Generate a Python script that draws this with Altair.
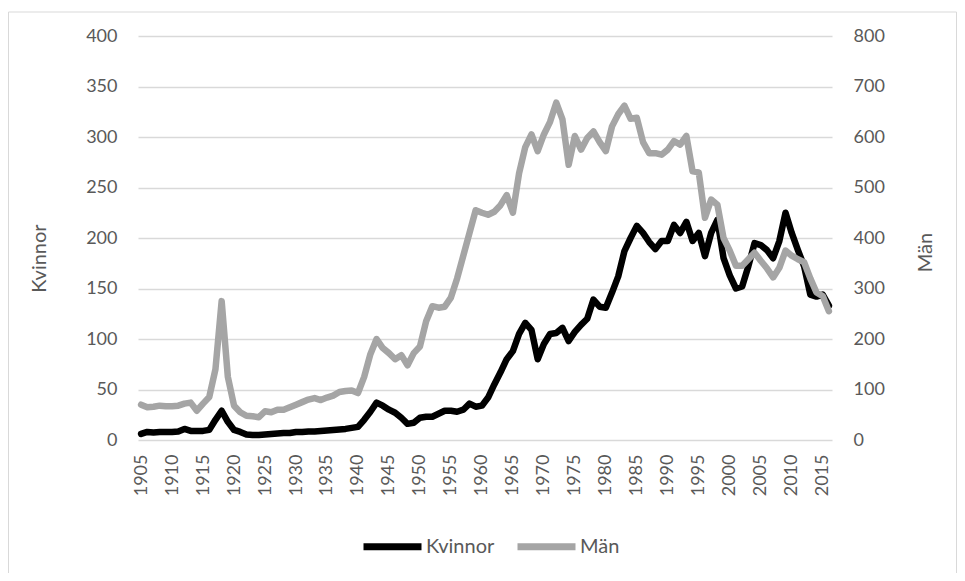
import altair as alt
import pandas as pd

years = list(range(1905, 2017))

kvinnor = [
    6, 8, 7.5, 8, 8, 8, 8.5, 11, 9, 9,
    9, 10, 20, 29, 18, 10, 8, 5.5, 5, 5,
    5.5, 6, 6.5, 7, 7, 8, 8, 8.5, 8.5, 9,
    9.5, 10, 10.5, 11, 12, 13, 20, 28, 37, 34,
    30, 27, 22, 16, 17, 22, 23, 23, 26, 29,
    29, 28, 30, 36, 33, 34, 42, 55, 67, 80,
    88, 105, 116, 109, 80, 95, 105, 106, 111, 98,
    107, 114, 120, 139, 132, 131, 146, 162, 187, 200,
    212, 205, 196, 189, 197, 197, 213, 205, 216, 197,
    205, 182, 205, 218, 180, 163, 150, 152, 172, 195,
    193, 188, 180, 197, 225, 205, 188, 172, 144, 142,
    144, 133,
]

man = [
    70, 65, 66, 68, 67, 67, 68, 72, 74, 58,
    72, 85, 140, 275, 125, 68, 55, 48, 47, 45,
    57, 55, 60, 60, 65, 70, 75, 80, 83, 79,
    84, 88, 95, 97, 98, 93, 125, 170, 200, 182,
    172, 160, 168, 148, 172, 185, 235, 265, 262, 264,
    282, 320, 365, 410, 455, 450, 446, 452, 465, 485,
    450, 528, 580, 605, 572, 605, 630, 668, 635, 545,
    602, 575, 598, 611, 590, 572, 621, 645, 662, 636,
    638, 590, 568, 568, 565, 575, 592, 585, 602, 532,
    530, 440, 476, 466, 400, 375, 345, 345, 358, 371,
    355, 340, 322, 341, 375, 365, 358, 352, 320, 292,
    285, 255,
]

x_ticks = list(range(1905, 2016, 5))
left_ticks = list(range(0, 401, 50))
right_ticks = list(range(0, 801, 100))

df = pd.DataFrame({"År": years, "Kvinnor": kvinnor, "Män": man})

FONT = "Lato"
LABEL = "#595959"
GRID = "#d9d9d9"

color_scale = alt.Scale(domain=["Kvinnor", "Män"], range=["#000000", "#a5a5a5"])
legend = alt.Legend(
    title=None,
    orient="none",
    direction="horizontal",
    legendX=222,
    legendY=478,
    symbolType="stroke",
    symbolSize=3364,
    symbolStrokeWidth=7,
    labelFontSize=20,
    labelFont=FONT,
    labelColor=LABEL,
    labelOffset=1,
    columnPadding=8,
)

x_enc = alt.X(
    "År:Q",
    scale=alt.Scale(domain=[1904.5, 2016.5], nice=False, zero=False),
    axis=alt.Axis(
        values=x_ticks,
        format="d",
        labelAngle=270,
        labelFontSize=18,
        labelFont=FONT,
        labelColor=LABEL,
        labelPadding=14,
        ticks=False,
        tickSize=0,
        domain=False,
        grid=False,
        title=None,
    ),
)

base = alt.Chart(df)

k_line = base.transform_fold(["Kvinnor"], as_=["serie", "värde"]).mark_line(
    strokeWidth=6.5, strokeCap="round", strokeJoin="round"
).encode(
    x=x_enc,
    y=alt.Y(
        "värde:Q",
        scale=alt.Scale(domain=[0, 400], nice=False),
        axis=alt.Axis(
            orient="left",
            values=left_ticks,
            title="Kvinnor",
            titleFont=FONT,
            titleFontSize=20,
            titleFontWeight="normal",
            titleColor=LABEL,
            titleAngle=270,
            titleBaseline="middle",
            titleX=-99,
            titleY=222,
            labelFontSize=18,
            labelFont=FONT,
            labelColor=LABEL,
            labelPadding=21,
            ticks=False,
            tickSize=0,
            domain=False,
            grid=True,
            gridColor=GRID,
            gridWidth=1.3,
        ),
    ),
    color=alt.Color("serie:N", scale=color_scale, legend=legend),
)

m_line = base.transform_fold(["Män"], as_=["serie", "värde"]).mark_line(
    strokeWidth=6.5, strokeCap="round", strokeJoin="round"
).encode(
    x=x_enc,
    y=alt.Y(
        "värde:Q",
        scale=alt.Scale(domain=[0, 800], nice=False),
        axis=alt.Axis(
            orient="right",
            values=right_ticks,
            title="Män",
            titleFont=FONT,
            titleFontSize=20,
            titleFontWeight="normal",
            titleColor=LABEL,
            titleAngle=270,
            titleBaseline="middle",
            titleX=93,
            titleY=216,
            labelFontSize=18,
            labelFont=FONT,
            labelColor=LABEL,
            labelPadding=21,
            ticks=False,
            tickSize=0,
            domain=False,
            grid=False,
        ),
    ),
    color=alt.Color("serie:N", scale=color_scale, legend=legend),
)

frame = alt.Chart(alt.Data(values=[{}])).mark_rect(
    fill=None, stroke=GRID, strokeWidth=1
).encode(
    x=alt.value(-129.5),
    x2=alt.value(818.5),
    y=alt.value(-24),
    y2=alt.value(538),
)

chart = (
    alt.layer(frame, k_line, m_line)
    .resolve_scale(y="independent")
    .properties(
        width=694,
        height=404,
        autosize=alt.AutoSizeParams(type="none"),
        padding={"left": 130, "top": 28, "right": 125, "bottom": 133},
        background="white",
    )
    .configure_view(stroke=None)
)

chart.save("out.html", embed_options={"renderer": "svg", "actions": False})
